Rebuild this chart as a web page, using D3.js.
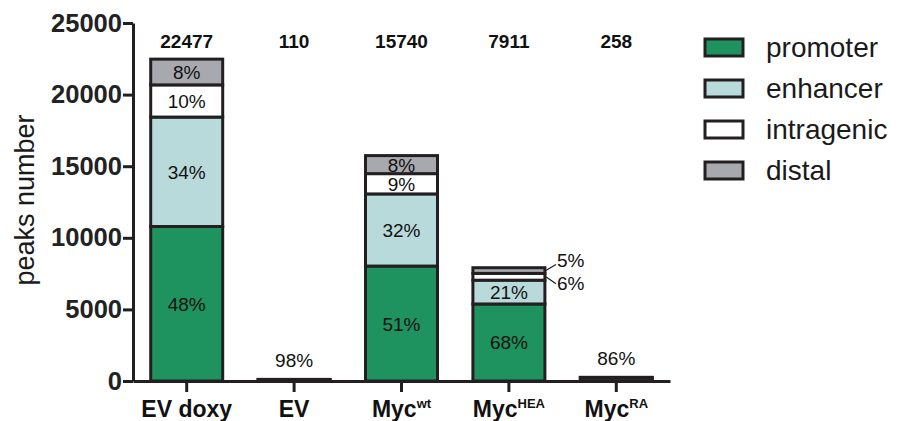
<!DOCTYPE html>
<html>
<head>
<meta charset="utf-8">
<script src="https://cdn.jsdelivr.net/npm/d3@7/dist/d3.min.js"></script>
<style>
  html, body { margin: 0; padding: 0; background: #fff; }
  svg { display: block; font-family: "Liberation Sans", Arial, Helvetica, sans-serif; }
</style>
</head>
<body>
<svg id="chart" width="899" height="421"></svg>
<script>
// Sample groups, with superscript suffixes for the Myc variants
const groups = ["EV doxy", "EV", "Myc", "Myc", "Myc"];
const groupSup = ["", "", "wt", "HEA", "RA"];
const groupKeys = ["EVdoxy", "EV", "Mycwt", "MycHEA", "MycRA"];

// Total peaks per sample
const totals = [22477, 110, 15740, 7911, 258];

// Share of peaks (%) in each genomic region; null = not reported
const promoterPct   = [48, 98, 51, 68, 86];
const enhancerPct   = [34, null, 32, 21, null];
const intragenicPct = [10, null, 9, 6, null];
const distalPct     = [8, null, 8, 5, null];

const regions = ["promoter", "enhancer", "intragenic", "distal"];
const regionColors = ["#1e9360", "#b9dadb", "#ffffff", "#a8a9ae"];
const yTicks = [0, 5000, 10000, 15000, 20000, 25000];

const ink = "#231f20";
const svg = d3.select("#chart");

const x = d3.scaleBand().domain(groupKeys).range([133, 670]).padding(0);
const barW = 72;
const y = d3.scaleLinear().domain([0, 25000]).range([381, 23]);

// Stack each sample's regions bottom-up
const pctTable = [promoterPct, enhancerPct, intragenicPct, distalPct];
const segments = [];
groupKeys.forEach((g, i) => {
  let acc = 0;
  let known = 0;
  pctTable.forEach((arr, r) => {
    const p = arr[i];
    if (p == null) return;
    const v = totals[i] * p / 100;
    segments.push({ g, i, r, pct: p, y0: acc, y1: acc + v });
    acc += v;
    known += p;
  });
  // unreported remainder of the tiny bars
  if (known < 100) {
    segments.push({ g, i, r: -1, pct: null, y0: acc, y1: totals[i] });
  }
});

const barsG = svg.append("g");
barsG.selectAll("rect.seg")
  .data(segments)
  .join("rect")
  .attr("class", "seg")
  .attr("x", d => x(d.g) + (x.bandwidth() - barW) / 2)
  .attr("width", barW)
  .attr("y", d => y(d.y1))
  .attr("height", d => Math.max(0, y(d.y0) - y(d.y1)))
  .attr("fill", d => d.r >= 0 ? regionColors[d.r] : regionColors[0])
  .attr("stroke", ink)
  .attr("stroke-width", 3);

// percentage labels inside segments tall enough to hold them
const inside = segments.filter(d => d.pct != null && (y(d.y0) - y(d.y1)) > 14);
barsG.selectAll("text.pct")
  .data(inside)
  .join("text")
  .attr("class", "pct")
  .attr("x", d => x(d.g) + x.bandwidth() / 2)
  .attr("y", d => (y(d.y0) + y(d.y1)) / 2 + 7)
  .attr("text-anchor", "middle")
  .attr("font-size", 19)
  .attr("fill", "#111")
  .text(d => d.pct + "%");

// labels above the tiny bars
const tinyIdx = [1, 4];
barsG.selectAll("text.tiny")
  .data(tinyIdx)
  .join("text")
  .attr("class", "tiny")
  .attr("x", i => x(groupKeys[i]) + x.bandwidth() / 2)
  .attr("y", i => y(totals[i]) - 12)
  .attr("text-anchor", "middle")
  .attr("font-size", 19)
  .attr("fill", "#111")
  .text(i => promoterPct[i] + "%");

// call-outs for the thin MycHEA slices
const hea = 3;
const heaRight = x(groupKeys[hea]) + (x.bandwidth() + barW) / 2;
const heaSegs = segments.filter(d => d.i === hea && (d.r === 2 || d.r === 3));
heaSegs.forEach(d => {
  const mid = (y(d.y0) + y(d.y1)) / 2;
  const ty = d.r === 3 ? mid - 6 : mid + 7;
  svg.append("path")
    .attr("d", `M${heaRight + 1},${mid} L${heaRight + 11},${ty}`)
    .attr("stroke", ink).attr("stroke-width", 1.3).attr("fill", "none");
  svg.append("text")
    .attr("x", heaRight + 12)
    .attr("y", ty + (d.r === 3 ? 2 : 6))
    .attr("font-size", 19)
    .attr("fill", "#111")
    .text(d.pct + "%");
});

// totals across the top
svg.append("g").selectAll("text")
  .data(groupKeys)
  .join("text")
  .attr("x", g => x(g) + x.bandwidth() / 2)
  .attr("y", 48)
  .attr("text-anchor", "middle")
  .attr("font-size", 19)
  .attr("font-weight", "bold")
  .attr("fill", "#111")
  .text((g, i) => totals[i]);

// axes
const yAxis = svg.append("g")
  .attr("transform", "translate(133,0)")
  .call(d3.axisLeft(y).tickValues(yTicks).tickSize(10).tickSizeOuter(0).tickFormat(d3.format("d")));
yAxis.select(".domain").attr("stroke", ink).attr("stroke-width", 3);
yAxis.selectAll(".tick line").attr("stroke", ink).attr("stroke-width", 3);
yAxis.selectAll(".tick text")
  .attr("font-size", 25.5).attr("font-weight", "bold").attr("fill", "#222")
  .attr("font-family", "Liberation Sans, Arial, sans-serif")
  .attr("x", -11);

const xAxis = svg.append("g")
  .attr("transform", "translate(0,381)")
  .call(d3.axisBottom(x).tickSize(11).tickSizeOuter(0).tickFormat(""));
xAxis.select(".domain").attr("stroke", ink).attr("stroke-width", 3);
xAxis.selectAll(".tick line").attr("stroke", ink).attr("stroke-width", 3);

// category labels with superscripts
const xl = svg.append("g").selectAll("text")
  .data(groupKeys)
  .join("text")
  .attr("x", g => x(g) + x.bandwidth() / 2)
  .attr("y", 417)
  .attr("text-anchor", "middle")
  .attr("font-size", 23)
  .attr("font-weight", "bold")
  .attr("fill", "#111");
xl.append("tspan").text((g, i) => groups[i]);
xl.append("tspan")
  .attr("font-size", 13)
  .attr("dy", -9)
  .text((g, i) => groupSup[i]);

// y-axis title
svg.append("text")
  .attr("transform", "translate(34,200) rotate(-90)")
  .attr("text-anchor", "middle")
  .attr("font-size", 27)
  .attr("fill", "#1a1a1a")
  .text("peaks number");

// legend
const lg = svg.append("g").attr("transform", "translate(705,39)");
const rows = lg.selectAll("g").data(regions).join("g")
  .attr("transform", (d, i) => `translate(0,${i * 41})`);
rows.append("rect")
  .attr("width", 38).attr("height", 17)
  .attr("fill", (d, i) => regionColors[i])
  .attr("stroke", ink).attr("stroke-width", 3);
rows.append("text")
  .attr("x", 61).attr("y", 18)
  .attr("font-size", 28)
  .attr("fill", "#1a1a1a")
  .text(d => d);
</script>
</body>
</html>
